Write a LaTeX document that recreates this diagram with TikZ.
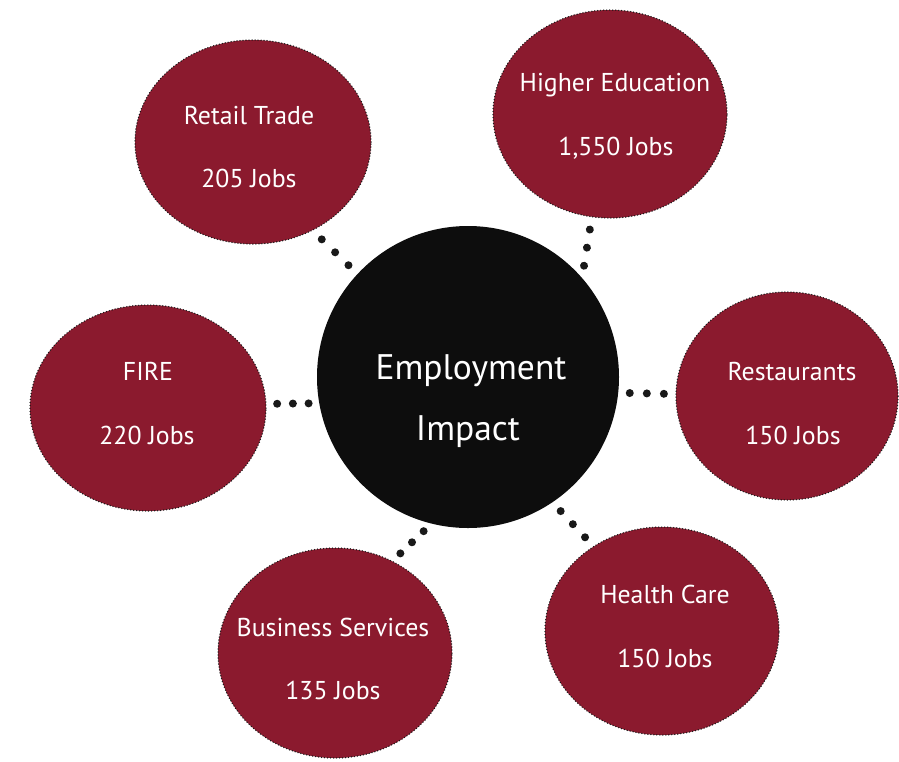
\documentclass[tikz,border=0pt]{standalone}
\usepackage{fontspec}
\setmainfont{PT Sans}
\usetikzlibrary{shapes.geometric}
\usetikzlibrary{decorations.markings}

\definecolor{maroon}{HTML}{8B1A2E}
\definecolor{nearblack}{HTML}{0D0D0D}

\tikzset{
  bubble/.style={ellipse, fill=maroon, draw=black!90, line width=1.5pt,
    line cap=round, dash pattern=on 0pt off 3pt, inner sep=0pt},
  hub/.style={circle, fill=nearblack, inner sep=0pt, minimum size=302pt},
  txt/.style={anchor=base, text=white, font=\fontsize{25.8}{30}\selectfont, inner sep=0pt},
  bigtxt/.style={anchor=base, text=white, font=\fontsize{35.5}{42}\selectfont, inner sep=0pt},
  links/.style={decoration={markings,
      mark=at position 0.2 with {\fill[black!90] circle (4pt);},
      mark=at position 0.5 with {\fill[black!90] circle (4pt);},
      mark=at position 0.8 with {\fill[black!90] circle (4pt);}},
    postaction={decorate}}
}

\begin{document}
\begin{tikzpicture}[x=1pt,y=-1pt]
            \useasboundingbox (0,0) rectangle (899,761);

            % Place the center node
            \node[hub] (emp) at (468,377) {};
            \node[bigtxt] (emp1) at (471,379) {Employment};
            \node[bigtxt] (emp2) at (468,440) {Impact};

            % Place the sector nodes
            \node[bubble,minimum width=236pt,minimum height=204pt] (retail) at (253,142) {};
            \node[bubble,minimum width=234pt,minimum height=208pt] (higher) at (610,114) {};
            \node[bubble,minimum width=236pt,minimum height=206pt] (fire) at (148,408) {};
            \node[bubble,minimum width=222pt,minimum height=208pt] (rest) at (787,396) {};
            \node[bubble,minimum width=234pt,minimum height=210pt] (bus) at (335,653) {};
            \node[bubble,minimum width=234pt,minimum height=208pt] (health) at (662,631) {};

            % The labels
            \node[txt] (retail1) at (249,124) {Retail Trade};
            \node[txt] (retail2) at (249,187) {205 Jobs};
            \node[txt] (higher1) at (615,91) {Higher Education};
            \node[txt] (higher2) at (616,155) {1,550 Jobs};
            \node[txt] (fire1) at (148,380) {FIRE};
            \node[txt] (fire2) at (147,444) {220 Jobs};
            \node[txt] (rest1) at (792,380) {Restaurants};
            \node[txt] (rest2) at (793,444) {150 Jobs};
            \node[txt] (bus1) at (333,636) {Business Services};
            \node[txt] (bus2) at (333,699) {135 Jobs};
            \node[txt] (health1) at (665,603) {Health Care};
            \node[txt] (health2) at (665,667) {150 Jobs};

            % The dots!
            \path[links] (retail.304) -- (emp.137);
            \path[links] (higher.260) -- (emp.41);
            \path[links] (fire.2) -- (emp.190);
            \path[links] (emp.354) -- (rest.179);
            \path[links] (bus.58) -- (emp.256);
            \path[links] (emp.304) -- (health.129);
        \end{tikzpicture}
\end{document}
